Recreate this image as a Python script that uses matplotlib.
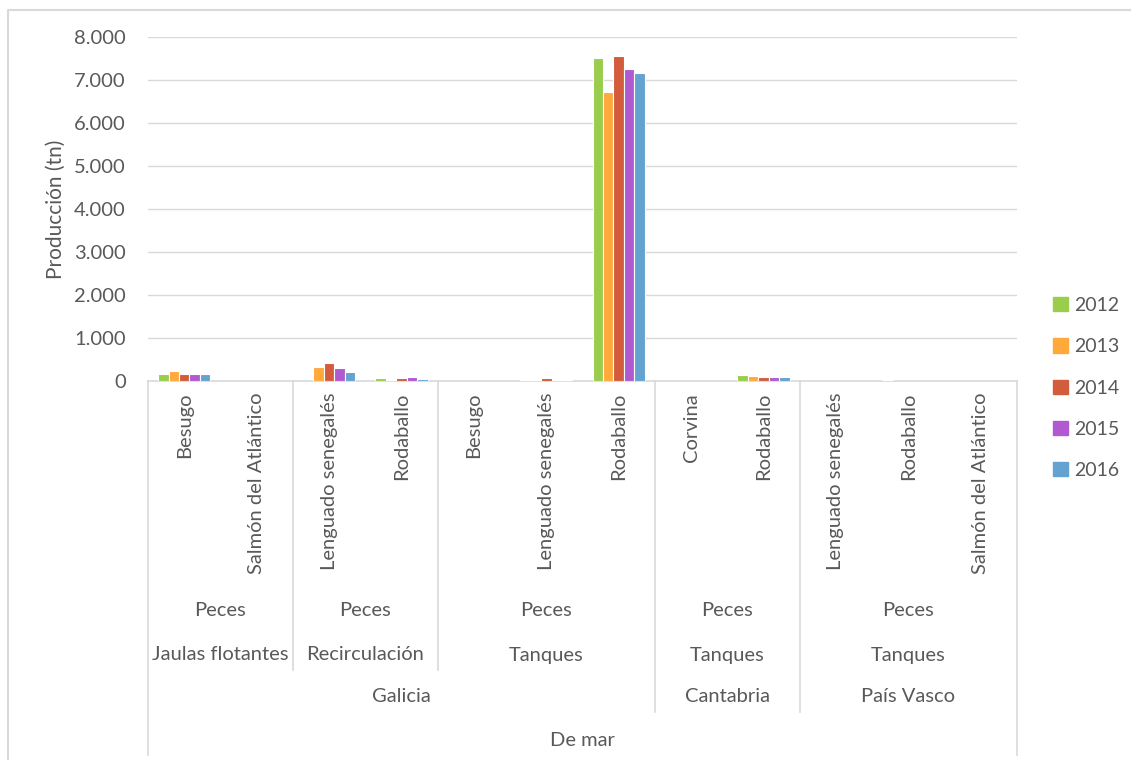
import matplotlib.pyplot as plt
import matplotlib.transforms as mtransforms
from matplotlib.lines import Line2D
from matplotlib.patches import Rectangle
import numpy as np

plt.rcParams['font.family'] = ['Lato', 'DejaVu Sans']

# Datos (toneladas)
especies = ["Besugo", "Salmón del Atlántico", "Lenguado senegalés", "Rodaballo",
            "Besugo", "Lenguado senegalés", "Rodaballo",
            "Corvina", "Rodaballo",
            "Lenguado senegalés", "Rodaballo", "Salmón del Atlántico"]
years = ["2012", "2013", "2014", "2015", "2016"]
prod_2012 = [170, 0, 0, 60, 0, 30, 7505, 0, 140, 0, 30, 0]
prod_2013 = [225, 0, 330, 25, 0, 30, 6720, 0, 110, 0, 0, 0]
prod_2014 = [165, 0, 430, 60, 0, 60, 7565, 0, 85, 0, 0, 0]
prod_2015 = [165, 0, 300, 85, 0, 25, 7256, 0, 85, 0, 0, 0]
prod_2016 = [170, 0, 220, 35, 0, 30, 7155, 0, 90, 0, 0, 0]

# grupos: (etiqueta, primer indice, ultimo indice)
grupo_peces = [("Peces", 0, 1), ("Peces", 2, 3), ("Peces", 4, 6), ("Peces", 7, 8), ("Peces", 9, 11)]
grupo_sistema = [("Jaulas flotantes", 0, 1), ("Recirculación", 2, 3), ("Tanques", 4, 6),
                 ("Tanques", 7, 8), ("Tanques", 9, 11)]
grupo_region = [("Galicia", 0, 6), ("Cantabria", 7, 8), ("País Vasco", 9, 11)]
grupo_tipo = [("De mar", 0, 11)]

colors = ['#9ACD4C', '#FFA93A', '#D35C3D', '#B059D0', '#64A2D0']
series = [prod_2012, prod_2013, prod_2014, prod_2015, prod_2016]

W, H = 1131, 760
fig = plt.figure(figsize=(W / 100, H / 100), dpi=100)
ax = fig.add_axes([148 / W, 1 - 381 / H, (1017 - 148) / W, (381 - 37) / H])

x = np.arange(len(especies))
bw = 0.144
for i, (vals, c, y) in enumerate(zip(series, colors, years)):
    ax.bar(x + (i - 2) * bw, vals, width=bw, color=c, edgecolor='white', linewidth=0.8, label=y, zorder=3)

ax.set_xlim(-0.5, len(especies) - 0.5)
ax.set_ylim(0, 8000)
ax.set_yticks(range(0, 8001, 1000))
ax.set_yticklabels(['0' if v == 0 else f"{v // 1000}.000" for v in range(0, 8001, 1000)])
ax.yaxis.grid(True, color='#D9D9D9', linewidth=1, zorder=0)
ax.tick_params(axis='y', length=0, labelsize=14.5, labelcolor='#595959', pad=16)
ax.set_xticks([])
for s in ['top', 'right', 'left']:
    ax.spines[s].set_visible(False)
ax.spines['bottom'].set_color('#D9D9D9')
ax.spines['bottom'].set_linewidth(1.2)
ax.set_ylabel("Producción (tn)", fontsize=15, color='#595959', labelpad=6)

trans = mtransforms.blended_transform_factory(ax.transData, fig.transFigure)
txt = dict(color='#595959', fontsize=14.5, transform=trans)

for i, name in enumerate(especies):
    ax.text(i, 1 - 393 / H, name, rotation=90, ha='center', va='top', **txt)

def fila(grupos, ypx):
    for name, a, b in grupos:
        ax.text((a + b) / 2, 1 - ypx / H, name, ha='center', va='center', **txt)

fila(grupo_peces, 611)
fila(grupo_sistema, 655)
fila(grupo_region, 697)
fila(grupo_tipo, 740)

# separadores
def sep(xpos, ypx):
    fig.add_artist(Line2D([xpos, xpos], [1 - 381 / H, 1 - ypx / H], transform=trans,
                          color='#D9D9D9', linewidth=1.2))

for _, a, b in grupo_sistema[:2]:
    sep(b + 0.5, 670)
for _, a, b in grupo_region[:2]:
    sep(b + 0.5, 712)
sep(-0.5, 755)
sep(len(especies) - 0.5, 755)

# marco exterior
fig.add_artist(Line2D([8 / W, 8 / W, 1], [0, 1 - 10 / H, 1 - 10 / H], transform=fig.transFigure,
                      color='#D9D9D9', linewidth=1.5))

handles = [Rectangle((0, 0), 1, 1, color=c) for c in colors]
fig.legend(handles, years, loc='center left', bbox_to_anchor=(1053 / W, 1 - 388 / H),
           frameon=False, fontsize=14, labelcolor='#595959', handlelength=0.75,
           handleheight=0.75, handletextpad=0.35, labelspacing=1.25,
           borderpad=0, borderaxespad=0)

fig.savefig("out.png", dpi=100)
